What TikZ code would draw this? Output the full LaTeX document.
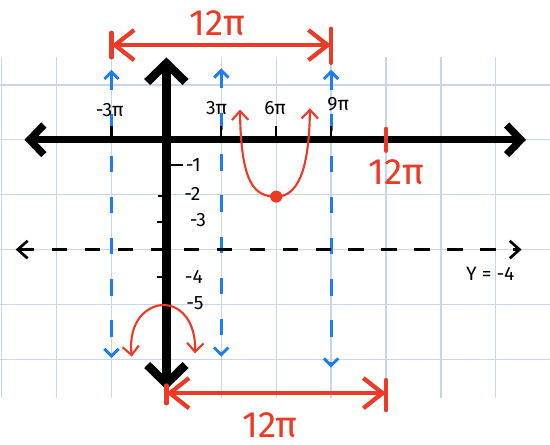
\documentclass[tikz,border=0pt]{standalone}
\usepackage{fontspec}
\setmainfont{Fira Sans}
\usepackage{xcolor}
\usepackage{tikz}
\usetikzlibrary{arrows.meta}
\definecolor{penRed}{RGB}{236,58,38}
\definecolor{penBlue}{RGB}{28,124,244}
\definecolor{paperGrid}{RGB}{200,213,234}

\begin{document}
\begin{tikzpicture}[
    x=0.5cm, y=0.5cm,
    gridline/.style={draw=paperGrid, line width=0.7pt},
    axis/.style={draw=black, line width=4.4pt, line cap=round, >={Straight Barb[length=3.4mm,width=7mm]}, <->},
    xaxis/.style={draw=black, line width=3.8pt, line cap=round, >={Straight Barb[length=2.6mm,width=5.4mm]}, <->},
    tickmark/.style={draw=black, line width=1.2pt},
    asym/.style={draw=penBlue, line width=1.5pt, dash pattern=on 3mm off 4.5mm, >={Straight Barb[length=1.3mm,width=2.6mm]}, <->},
    hline/.style={draw=black, line width=1.4pt, dash pattern=on 2.8mm off 3.2mm, >={Straight Barb[length=1.8mm,width=3.2mm]}, <->},
    curve/.style={draw=penRed, line width=1.1pt, >={Straight Barb[length=1.6mm,width=3mm]}, <->},
    span/.style={draw=penRed, line width=2.2pt, >={Straight Barb[length=3.5mm,width=5.5mm]}, <->},
    spanbar/.style={draw=penRed, line width=2.2pt, line cap=round},
    ticklbl/.style={font=\fontsize{10}{12}\selectfont, inner sep=0pt},
    redlbl/.style={text=penRed, font=\fontsize{19}{23}\selectfont, inner sep=0pt}
]
\useasboundingbox (-6.062,-11.118) rectangle (13.975,5.093);
\fill[white] (-6.062,-11.118) rectangle (13.975,5.093);

% Grid paper
\draw[gridline] (-6.062,-9.4) grid (13.975,3);

% Asymptotes
\coordinate (asA top) at (-2,2.55);
\coordinate (asA bot) at (-2,-7.95);
\coordinate (asB top) at (2,2.6);
\coordinate (asB bot) at (2,-7.9);
\coordinate (asC top) at (6,2.55);
\coordinate (asC bot) at (6,-8.3);
\draw[asym] (asA top) -- (asA bot);
\draw[asym] (asB top) -- (asB bot);
\draw[asym] (asC top) -- (asC bot);

% Midline y = -4
\coordinate (midL) at (-5.49,-4);
\coordinate (midR) at (12.94,-4);
\draw[hline] (midL) -- (midR);
\node[ticklbl] (midlbl) at (11.8,-4.87) {Y = -4};

% Axes
\coordinate (xL) at (-5.17,0);
\coordinate (xR) at (13.1,0);
\coordinate (yT) at (0,3);
\coordinate (yB) at (0,-9.1);
\draw[xaxis] (xL) -- (xR);
\draw[axis] (yT) -- (yB);

% Ticks
\draw[tickmark] (-2,0) -- (-2,0.5);
\draw[tickmark] (2,0) -- (2,0.5);
\draw[tickmark] (4,0) -- (4,0.5);
\draw[tickmark] (6,0) -- (6,0.5);
\draw[tickmark] (0,-0.92) -- (0.6,-0.92);
\draw[tickmark] (-0.3,-2.05) -- (0,-2.05);
\draw[tickmark] (-0.35,-3.0) -- (0,-3.0);
\draw[tickmark] (-0.35,-5.0) -- (0,-5.0);
\draw[spanbar] (8,0.4) -- (8,-0.4);

% Tick labels
\node[ticklbl] (lblm3) at (-2.06,1.1) {-3π};
\node[ticklbl] (lbl3) at (1.83,1.15) {3π};
\node[ticklbl] (lbl6) at (3.96,1.15) {6π};
\node[ticklbl] (lbl9) at (6.26,1.3) {9π};
\node[ticklbl] (lbly1) at (0.98,-0.92) {-1};
\node[ticklbl] (lbly2) at (0.95,-1.97) {-2};
\node[ticklbl] (lbly3) at (1.15,-2.92) {-3};
\node[ticklbl] (lbly4) at (1.0,-5.0) {-4};
\node[ticklbl] (lbly5) at (1.04,-5.95) {-5};
\node[redlbl] (per12) at (8.38,-1.19) {12π};

% Graph branches
\coordinate (uTL) at (2.68,1.1);
\coordinate (uMin) at (4,-2.07);
\coordinate (uTR) at (5.23,1.15);
\draw[curve] (uTL) .. controls (2.72,-1.6) and (3.2,-2.07) .. (uMin)
    .. controls (4.75,-2.07) and (5.2,-1.2) .. (uTR);
\fill[penRed] (uMin) circle (0.22);

\coordinate (archL) at (-1.26,-7.9);
\coordinate (archTop) at (-0.1,-6.02);
\coordinate (archR) at (1.04,-7.78);
\draw[curve] (archL) .. controls (-1.4,-6.6) and (-0.7,-6.02) .. (archTop)
    .. controls (0.5,-6.02) and (1.08,-6.6) .. (archR);

% Period spans
\coordinate (topL) at (-2,3.45);
\coordinate (topR) at (6,3.45);
\draw[spanbar] (-2,3.0) -- (-2,3.9);
\draw[spanbar] (6,2.8) -- (6,4.05);
\draw[span] (topL) -- (topR);
\node[redlbl] (toplbl) at (1.86,4.25) {12π};

\coordinate (botL) at (0,-9.23);
\coordinate (botR) at (8,-9.23);
\draw[spanbar] (0,-8.95) -- (0,-9.6);
\draw[spanbar] (8,-8.75) -- (8,-9.85);
\draw[span] (botL) -- (botR);
\node[redlbl] (botlbl) at (3.77,-10.4) {12π};
\end{tikzpicture}
\end{document}
